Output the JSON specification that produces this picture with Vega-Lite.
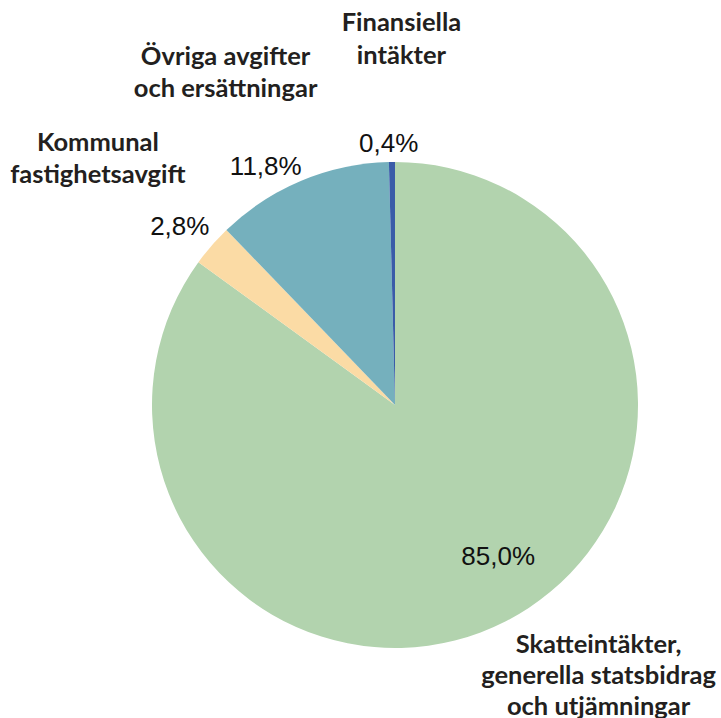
{
  "$schema": "https://vega.github.io/schema/vega-lite/v6.json",
  "width": 486,
  "height": 486,
  "autosize": {"type": "none"},
  "padding": {"left": 152, "top": 162, "right": 83, "bottom": 70},
  "background": "white",
  "config": {"view": {"stroke": null}},
  "data": {
    "values": [
      {"ord": 1, "name": "Skatteintäkter", "value": 85.0, "pct": "85,0%", "label": "Skatteintäkter,\ngenerella statsbidrag\noch utjämningar"},
      {"ord": 2, "name": "Kommunal fastighetsavgift", "value": 2.8, "pct": "2,8%", "label": "Kommunal\nfastighetsavgift"},
      {"ord": 3, "name": "Övriga avgifter och ersättningar", "value": 11.8, "pct": "11,8%", "label": "Övriga avgifter\noch ersättningar"},
      {"ord": 4, "name": "Finansiella intäkter", "value": 0.4, "pct": "0,4%", "label": "Finansiella\nintäkter"}
    ]
  },
  "encoding": {
    "theta": {"field": "value", "type": "quantitative", "stack": true},
    "order": {"field": "ord", "type": "quantitative"}
  },
  "layer": [
    {
      "mark": {"type": "arc"},
      "encoding": {
        "color": {
          "field": "name", "type": "nominal", "legend": null,
          "scale": {
            "domain": ["Skatteintäkter", "Kommunal fastighetsavgift", "Övriga avgifter och ersättningar", "Finansiella intäkter"],
            "range": ["#b2d3ae", "#fbdba5", "#75b0bd", "#3a5ca8"]
          }
        }
      }
    },
    {
      "mark": {"type": "text", "font": "Liberation Sans", "fontSize": 26, "color": "#111111", "align": "center", "baseline": "middle", "dx": 21, "dy": -9},
      "encoding": {"radius": {"value": 181}, "text": {"condition": {"test": "datum.ord === 1", "field": "pct", "type": "nominal"}, "value": ""}}
    },
    {
      "mark": {"type": "text", "font": "Liberation Sans", "fontSize": 26, "color": "#111111", "align": "center", "baseline": "middle", "dx": 2, "dy": 11},
      "encoding": {"radius": {"value": 288}, "text": {"condition": {"test": "datum.ord === 2", "field": "pct", "type": "nominal"}, "value": ""}}
    },
    {
      "mark": {"type": "text", "font": "Liberation Sans", "fontSize": 26, "color": "#111111", "align": "center", "baseline": "middle", "dx": -24, "dy": 14},
      "encoding": {"radius": {"value": 273}, "text": {"condition": {"test": "datum.ord === 3", "field": "pct", "type": "nominal"}, "value": ""}}
    },
    {
      "mark": {"type": "text", "font": "Liberation Sans", "fontSize": 26, "color": "#111111", "align": "center", "baseline": "middle", "dx": -3, "dy": 1},
      "encoding": {"radius": {"value": 262}, "text": {"condition": {"test": "datum.ord === 4", "field": "pct", "type": "nominal"}, "value": ""}}
    },
    {
      "mark": {"type": "text", "font": "Lato", "fontWeight": "bold", "fontSize": 25.5, "color": "#231f20", "align": "center", "baseline": "middle", "lineBreak": "\n", "lineHeight": 31, "dx": 51, "dy": -59},
      "encoding": {"radius": {"value": 336}, "text": {"condition": {"test": "datum.ord === 1", "field": "label", "type": "nominal"}, "value": ""}}
    },
    {
      "mark": {"type": "text", "font": "Lato", "fontWeight": "bold", "fontSize": 25.5, "color": "#231f20", "align": "center", "baseline": "middle", "lineBreak": "\n", "lineHeight": 32, "dx": -6, "dy": -9},
      "encoding": {"radius": {"value": 386}, "text": {"condition": {"test": "datum.ord === 2", "field": "label", "type": "nominal"}, "value": ""}}
    },
    {
      "mark": {"type": "text", "font": "Lato", "fontWeight": "bold", "fontSize": 25.5, "color": "#231f20", "align": "center", "baseline": "middle", "lineBreak": "\n", "lineHeight": 32, "dx": -26, "dy": -5},
      "encoding": {"radius": {"value": 372}, "text": {"condition": {"test": "datum.ord === 3", "field": "label", "type": "nominal"}, "value": ""}}
    },
    {
      "mark": {"type": "text", "font": "Lato", "fontWeight": "bold", "fontSize": 25.5, "color": "#231f20", "align": "center", "baseline": "middle", "lineBreak": "\n", "lineHeight": 33, "dx": 11, "dy": -17},
      "encoding": {"radius": {"value": 365}, "text": {"condition": {"test": "datum.ord === 4", "field": "label", "type": "nominal"}, "value": ""}}
    }
  ]
}
